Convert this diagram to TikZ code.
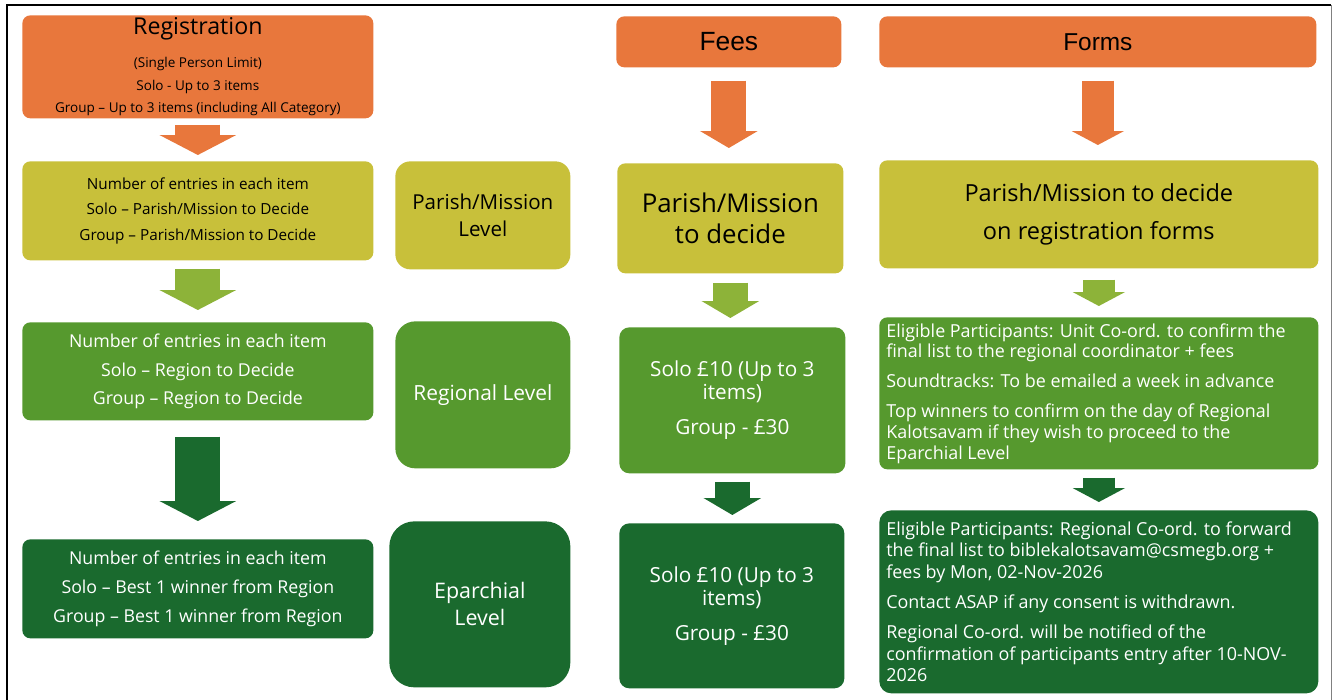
\documentclass[tikz,border=0pt]{standalone}
\usepackage{fontspec}
\setmainfont{Open Sans}
\newfontfamily\headfont{Liberation Sans}
\usepackage{tikz}
\usetikzlibrary{arrows.meta}
\usetikzlibrary{positioning}
\newlength\px
\setlength\px{0.02cm}
\definecolor{regorange}{HTML}{E8773C}
\definecolor{parishyellow}{HTML}{C8C03A}
\definecolor{lightgreen}{HTML}{8DB339}
\definecolor{regiongreen}{HTML}{56992E}
\definecolor{eparchgreen}{HTML}{1A6A2E}
\newcommand{\fsz}[2]{\fontsize{#1}{#2}\selectfont}

\begin{document}
\begin{tikzpicture}
          [x=1\px, y=-1\px,
           box/.style={anchor=north west, inner sep=0pt, align=center, rounded corners=8\px},
           orangebox/.style={box, fill=regorange, text=black},
           yellowbox/.style={box, fill=parishyellow, text=black},
           greenbox/.style={box, fill=regiongreen, text=white},
           darkbox/.style={box, fill=eparchgreen, text=white},
           bigarrow/.style={line width=45\px, -{Triangle[width=1.52cm, length=0.4cm]}},
           midarrow/.style={line width=35\px, -{Triangle[width=1.14cm, length=0.34cm]}},
           smallarrow/.style={line width=32\px, -{Triangle[width=1.04cm, length=0.28cm]}}]
          \useasboundingbox (0,0) rectangle (1333,700);
          \draw[line width=2\px] (7,700) -- (7,5) -- (1331,5);
          \draw[gray, line width=1\px] (1331,5) -- (1331,700);

          \node (reg) [orangebox, minimum width=351\px, minimum height=103\px, font=\fsz{7.7}{12.8}] at (22,15)
            {{\fsz{13.2}{13.2}Registration}\\[6pt]
             (Single Person Limit)\\Solo - Up to 3 items\\Group -- Up to 3 items (including All Category)};
          \node (fees) [orangebox, minimum width=225\px, minimum height=51\px, font=\headfont\fsz{15}{17}] at (616,16) {Fees};
          \node (forms) [orangebox, minimum width=437\px, minimum height=51\px, font=\headfont\fsz{13.9}{16}] at (879,16) {Forms};

          \node (parishitems) [yellowbox, minimum width=351\px, minimum height=99\px, font=\fsz{8.7}{14.5}] at (22,161)
            {Number of entries in each item\\Solo -- Parish/Mission to Decide\\Group -- Parish/Mission to Decide};
          \node (parishlevel) [yellowbox, rounded corners=15\px, minimum width=175\px, minimum height=108\px, font=\fsz{11.7}{15.3}] at (395,161)
            {Parish/Mission\\Level};
          \node (parishfees) [yellowbox, minimum width=226\px, minimum height=110\px, font=\fsz{14.7}{17.6}] at (617,163)
            {Parish/Mission\\to decide};
          \node (parishforms) [yellowbox, minimum width=439\px, minimum height=108\px, font=\fsz{13.4}{22}] at (879,160)
            {Parish/Mission to decide\\on registration forms};

          \node (regionitems) [greenbox, minimum width=351\px, minimum height=98\px, font=\fsz{10.1}{16.4}] at (22,322)
            {Number of entries in each item\\Solo -- Region to Decide\\Group -- Region to Decide};
          \node (regionlevel) [greenbox, rounded corners=20\px, minimum width=175\px, minimum height=147\px, font=\fsz{11.9}{15.3}] at (395,321)
            {Regional Level};
          \node (regionfees) [greenbox, rounded corners=10\px, minimum width=226\px, minimum height=146\px, font=\fsz{11.8}{13}] at (619,327)
            {Solo £10 (Up to 3\\items)\\[6.8pt]Group - £30};
          \node (regionforms) [greenbox, align=left, minimum width=439\px, minimum height=152\px] at (879,317)
            {\begin{minipage}{425\px}\fsz{10.2}{11.9}\raggedright
             Eligible Participants: Unit Co-ord. to confirm the\\final list to the regional coordinator + fees\\[5pt]
             Soundtracks: To be emailed a week in advance\\[5pt]
             Top winners to confirm on the day of Regional\\Kalotsavam if they wish to proceed to the\\Eparchial Level\end{minipage}};

          \node (eparchitems) [darkbox, minimum width=351\px, minimum height=99\px, font=\fsz{10.1}{16.4}] at (22,539)
            {Number of entries in each item\\Solo -- Best 1 winner from Region\\Group -- Best 1 winner from Region};
          \node (eparchlevel) [darkbox, rounded corners=25\px, minimum width=181\px, minimum height=166\px, font=\fsz{12.2}{15.3}] at (389,521)
            {Eparchial\\Level};
          \node (eparchfees) [darkbox, rounded corners=10\px, minimum width=225\px, minimum height=165\px, font=\fsz{11.8}{13}] at (619,523)
            {Solo £10 (Up to 3\\items)\\[6.8pt]Group - £30};
          \node (eparchforms) [darkbox, rounded corners=12\px, align=left, minimum width=439\px, minimum height=183\px] at (879,510)
            {\begin{minipage}{425\px}\fsz{10.2}{12.2}\raggedright
             Eligible Participants: Regional Co-ord. to forward\\the final list to biblekalotsavam@csmegb.org +\\fees by Mon, 02-Nov-2026\\[5pt]
             Contact ASAP if any consent is withdrawn.\\[5pt]
             Regional Co-ord. will be notified of the\\confirmation of participants entry after 10-NOV-\\2026\end{minipage}};

          \draw[bigarrow, regorange, shorten <=6\px, shorten >=6\px] (reg.south) -- (reg.south |- parishitems.north);
          \draw[bigarrow, lightgreen, shorten <=8\px, shorten >=12\px] (parishitems.south) -- (parishitems.south |- regionitems.north);
          \draw[bigarrow, eparchgreen, shorten <=16\px, shorten >=18\px] (regionitems.south) -- (regionitems.south |- eparchitems.north);

          \draw[midarrow, regorange, shorten <=13\px, shorten >=15\px] (fees.south) -- (fees.south |- parishfees.north);
          \draw[midarrow, lightgreen, shorten <=9\px, shorten >=9\px] (parishfees.south) -- (parishfees.south |- regionfees.north);
          \draw[midarrow, eparchgreen, shorten <=8\px, shorten >=8\px] (regionfees.south) -- (regionfees.south |- eparchfees.north);

          \draw[smallarrow, regorange, shorten <=13\px, shorten >=15\px] (forms.south) -- (forms.south |- parishforms.north);
          \draw[smallarrow, lightgreen, shorten <=11\px, shorten >=11\px] (parishforms.south) -- (parishforms.south |- regionforms.north);
          \draw[smallarrow, eparchgreen, shorten <=8\px, shorten >=8\px] (regionforms.south) -- (regionforms.south |- eparchforms.north);
        \end{tikzpicture}
\end{document}
